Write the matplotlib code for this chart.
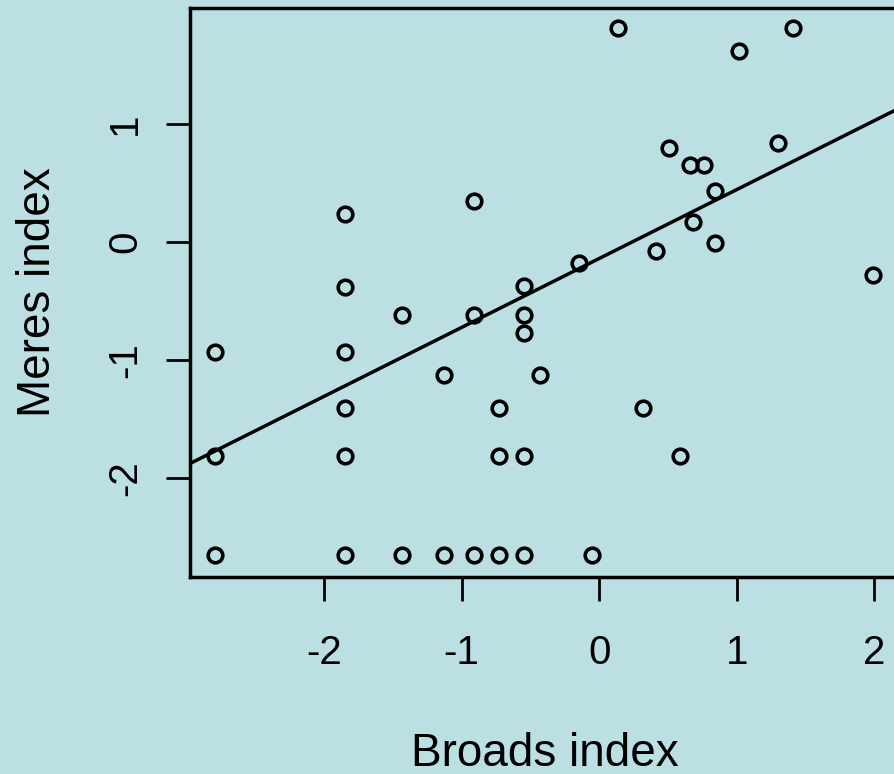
import matplotlib
matplotlib.use("Agg")
import matplotlib.pyplot as plt
import numpy as np

# Data
broads = [0.14, 1.02, 1.41, -0.91, -1.85, 0.51, 1.30, 0.66, 0.76, 0.84,
          0.68, 0.41, 0.84, -0.15, 1.99, -1.85, -1.43, -0.91, -0.55, -0.55,
          -0.55, -2.79, -1.85, -1.13, -0.43, -0.73, 0.32, -1.85, -2.79, -1.85,
          -0.73, -0.55, 0.59, -2.79, -1.85, -1.43, -1.13, -0.91, -0.73, -0.55,
          -0.05]
meres = [1.81, 1.62, 1.81, 0.35, 0.24, 0.80, 0.84, 0.65, 0.65, 0.43,
         0.17, -0.08, -0.01, -0.18, -0.28, -0.38, -0.62, -0.62, -0.37, -0.62,
         -0.77, -0.93, -0.93, -1.13, -1.13, -1.41, -1.41, -1.41, -1.81, -1.81,
         -1.81, -1.81, -1.81, -2.65, -2.65, -2.65, -2.65, -2.65, -2.65, -2.65,
         -2.65]
fit_intercept = -0.14
fit_slope = 0.584

xticks = [-2, -1, 0, 1, 2]
yticks = [-2, -1, 0, 1]
xlabel = "Broads index"
ylabel = "Meres index"

bg = "#BBDFE2"
plt.rcParams['font.family'] = ['Liberation Sans', 'DejaVu Sans']

fig = plt.figure(figsize=(8.95, 7.74), dpi=100, facecolor=bg)
ax = fig.add_axes([190/895, 197/774, 709/895, 569/774], facecolor=bg)

ax.plot(broads, meres, linestyle='none', marker='o', markersize=10.5,
        markerfacecolor='none', markeredgecolor='black', markeredgewidth=2.6)

xl = (-2.975, 2.18)
ax.set_xlim(*xl)
ax.set_ylim(-2.839, 1.983)
xs = np.array(xl)
ax.plot(xs, fit_intercept + fit_slope * xs, color='black', linewidth=2.5)

for s in ax.spines.values():
    s.set_linewidth(2.5)

ax.set_xticks(xticks)
ax.set_yticks(yticks)
ax.set_xticklabels([str(t) for t in xticks])
ax.set_yticklabels([str(t) for t in yticks], rotation=90, va='center')
ax.tick_params(axis='both', direction='out', length=17, width=2.0,
               labelsize=29)
ax.tick_params(axis='x', pad=24)
ax.tick_params(axis='y', pad=16)

ax.set_xlabel(xlabel, fontsize=33, labelpad=43)
ax.set_ylabel(ylabel, fontsize=33, labelpad=33)

fig.savefig("out.png", dpi=100, facecolor=bg)
